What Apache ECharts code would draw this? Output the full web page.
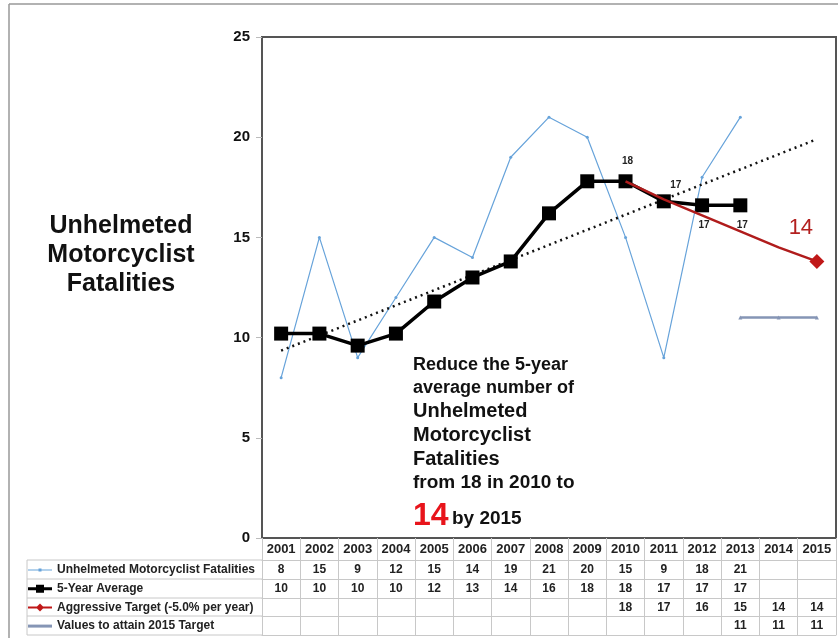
<!DOCTYPE html>
<html><head><meta charset="utf-8">
<script src="https://cdn.jsdelivr.net/npm/echarts@6/dist/echarts.min.js"></script>
<style>html,body{margin:0;padding:0;background:#fff}#c{width:838px;height:638px}</style>
</head><body><div id="c"></div>
<script>
var years = ['2001','2002','2003','2004','2005','2006','2007','2008','2009','2010','2011','2012','2013','2014','2015'];
var fatalities = [8,15,9,12,15,14,19,21,20,15,9,18,21,null,null];
var fiveYearAvg = [10.2,10.2,9.6,10.2,11.8,13,13.8,16.2,17.8,17.8,16.8,16.6,16.6,null,null];
var aggressiveTarget = [null,null,null,null,null,null,null,null,null,17.8,16.9,16.1,15.3,14.5,13.8];
var attainValues = [null,null,null,null,null,null,null,null,null,null,null,null,11,11,11];
var trendEnds = [9.35,null,null,null,null,null,null,null,null,null,null,null,null,null,19.9];
var rowFatalities = ['8','15','9','12','15','14','19','21','20','15','9','18','21','',''];
var rowAvg = ['10','10','10','10','12','13','14','16','18','18','17','17','17','',''];
var rowTarget = ['','','','','','','','','','18','17','16','15','14','14'];
var rowAttain = ['','','','','','','','','','','','','11','11','11'];
var seriesNames = ['Unhelmeted Motorcyclist Fatalities','5-Year Average','Aggressive Target (-5.0% per year)','Values to attain 2015 Target'];
var yTicks = [0,5,10,15,20,25];

var FF = '"Liberation Sans", Arial, sans-serif';
var chart = echarts.init(document.getElementById('c'), null, {renderer:'canvas'});

function rowAxis(data, offset, tickLen) {
  return {
    type:'category', data:data, position:'bottom', offset:offset, gridIndex:0,
    boundaryGap:true,
    axisLine:{show:true, lineStyle:{color:'#c8c8c8', width:1}},
    axisTick:{show:tickLen>0, interval:0, length:tickLen, lineStyle:{color:'#c8c8c8', width:1}},
    axisLabel:{show:true, interval:0, margin:4, fontSize:12, fontWeight:'bold', color:'#222', fontFamily:FF},
    splitLine:{show:false}
  };
}

var avgLabels = {9:'top', 10:'top', 11:'bottom', 12:'bottom'};
var avgData = fiveYearAvg.map(function(v,i){
  if (avgLabels[i]) {
    return {value:v, label:{show:true, position:avgLabels[i], distance:i===10?6:8, offset:i===10?[12,2]:[2,0],
      formatter:rowAvg[i], fontSize:10, fontWeight:'bold', color:'#222', fontFamily:FF}};
  }
  return v;
});
var targetData = aggressiveTarget.map(function(v,i){
  if (i === aggressiveTarget.length-1) {
    return {value:v, symbol:'diamond', symbolSize:15,
      label:{show:true, position:'top', offset:[-16,-10], formatter:rowTarget[i], fontSize:22, color:'#b3201f', fontFamily:FF}};
  }
  return v;
});

var option = {
  animation:false,
  backgroundColor:'#fff',
  grid:{left:262, right:2, top:37, bottom:100, show:true, borderColor:'#555', borderWidth:2, containLabel:false},
  xAxis:[
    {type:'category', data:years, position:'bottom', boundaryGap:true,
     axisLine:{show:true, lineStyle:{color:'#555', width:2}},
     axisTick:{show:true, interval:0, length:22, lineStyle:{color:'#c8c8c8', width:1}},
     axisLabel:{interval:0, margin:5, fontSize:13, fontWeight:'bold', color:'#222', fontFamily:FF},
     splitLine:{show:false}},
    rowAxis(rowFatalities, 22, 19),
    rowAxis(rowAvg, 41, 19),
    rowAxis(rowTarget, 60, 18),
    rowAxis(rowAttain, 78, 19),
    {type:'category', data:years, position:'bottom', offset:97,
     axisLine:{show:true, lineStyle:{color:'#c8c8c8', width:1}},
     axisTick:{show:false}, axisLabel:{show:false}}
  ],
  yAxis:{type:'value', min:yTicks[0], max:yTicks[yTicks.length-1], interval:5,
    axisLine:{show:true, lineStyle:{color:'#555', width:2}},
    axisTick:{show:true, length:6, lineStyle:{color:'#bbb'}},
    axisLabel:{margin:12, fontSize:15, fontWeight:'bold', color:'#111', fontFamily:FF},
    splitLine:{show:false}},
  legend:{
    data:[
      {name:seriesNames[0], icon:'path://M0,5.5h24v1h-24zM10.5,4.5h3v3h-3z'},
      {name:seriesNames[1], icon:'path://M0,4.5h24v3h-24zM8,2h8v8h-8z'},
      {name:seriesNames[2], icon:'path://M0,5h24v2h-24zM12,2l4,4l-4,4l-4,-4z'},
      {name:seriesNames[3], icon:'path://M0,4.5h24v3h-24z'}
    ],
    orient:'vertical', left:28, top:564, padding:0, height:74,
    itemWidth:24, itemHeight:12, itemGap:6.7,
    textStyle:{fontSize:12, fontWeight:'bold', color:'#222', fontFamily:FF, lineHeight:12},
    selectedMode:false
  },
  series:[
    {name:seriesNames[0], type:'line', data:fatalities, xAxisIndex:0,
     lineStyle:{color:'#67a3da', width:1.2}, itemStyle:{color:'#67a3da'},
     symbol:'circle', symbolSize:3, z:2},
    {name:'trend', type:'line', data:trendEnds, connectNulls:true, xAxisIndex:0,
     lineStyle:{color:'#111', width:2.5, type:[2,4]}, symbol:'none', z:3},
    {name:seriesNames[1], type:'line', data:avgData, xAxisIndex:0,
     lineStyle:{color:'#000', width:3.5}, itemStyle:{color:'#000'},
     symbol:'rect', symbolSize:14, z:4},
    {name:seriesNames[2], type:'line', data:targetData, xAxisIndex:0,
     lineStyle:{color:'#b01c1c', width:2.5}, itemStyle:{color:'#c01818'},
     symbol:'diamond', symbolSize:0, z:5},
    {name:seriesNames[3], type:'line', data:attainValues, xAxisIndex:0,
     lineStyle:{color:'#8595b5', width:2.5}, itemStyle:{color:'#8595b5'},
     symbol:'triangle', symbolSize:4, z:5}
  ],
  graphic:[
    {type:'line', shape:{x1:9, y1:4, x2:838, y2:4}, style:{stroke:'#999', lineWidth:1.5}, silent:true},
    {type:'line', shape:{x1:9, y1:4, x2:9, y2:638}, style:{stroke:'#999', lineWidth:1.5}, silent:true},
    {type:'line', shape:{x1:27, y1:560, x2:262, y2:560}, style:{stroke:'#c8c8c8', lineWidth:1}, silent:true},
    {type:'line', shape:{x1:27, y1:579, x2:262, y2:579}, style:{stroke:'#c8c8c8', lineWidth:1}, silent:true},
    {type:'line', shape:{x1:27, y1:598, x2:262, y2:598}, style:{stroke:'#c8c8c8', lineWidth:1}, silent:true},
    {type:'line', shape:{x1:27, y1:616, x2:262, y2:616}, style:{stroke:'#c8c8c8', lineWidth:1}, silent:true},
    {type:'line', shape:{x1:27, y1:635, x2:262, y2:635}, style:{stroke:'#c8c8c8', lineWidth:1}, silent:true},
    {type:'line', shape:{x1:27, y1:560, x2:27, y2:635}, style:{stroke:'#c8c8c8', lineWidth:1}, silent:true},
    {type:'text', x:121, y:255, style:{text:'Unhelmeted\nMotorcyclist\nFatalities', font:'bold 25px '+FF, fill:'#111',
      align:'center', verticalAlign:'middle', lineHeight:29}},
    {type:'text', x:413, y:365, style:{text:'Reduce the 5-year', font:'bold 18px '+FF, fill:'#111', verticalAlign:'middle'}},
    {type:'text', x:413, y:388, style:{text:'average number of', font:'bold 18px '+FF, fill:'#111', verticalAlign:'middle'}},
    {type:'text', x:413, y:411, style:{text:'Unhelmeted', font:'bold 20px '+FF, fill:'#111', verticalAlign:'middle'}},
    {type:'text', x:413, y:435, style:{text:'Motorcyclist', font:'bold 20px '+FF, fill:'#111', verticalAlign:'middle'}},
    {type:'text', x:413, y:459, style:{text:'Fatalities', font:'bold 20px '+FF, fill:'#111', verticalAlign:'middle'}},
    {type:'text', x:413, y:483, style:{text:'from 18 in 2010 to', font:'bold 19px '+FF, fill:'#111', verticalAlign:'middle'}},
    {type:'text', x:413, y:516, style:{text:'{r|14} {b|by 2015}', verticalAlign:'middle',
      rich:{r:{fontSize:32, fontWeight:'bold', fill:'#e8141b', fontFamily:FF}, b:{fontSize:19, fontWeight:'bold', fill:'#111', fontFamily:FF, padding:[6,0,0,0]}}}}
  ]
};
chart.setOption(option);
</script></body></html>
